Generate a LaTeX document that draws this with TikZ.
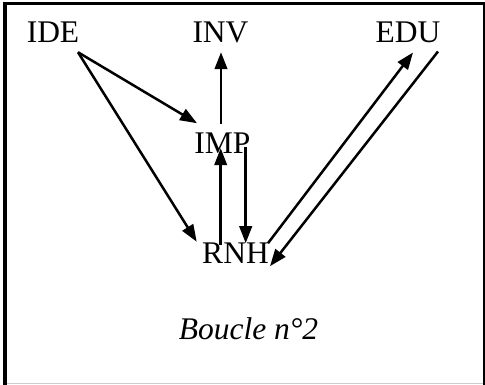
\documentclass[tikz,border=0pt]{standalone}
\usepackage{fontspec}
\setmainfont{Liberation Serif}
\usetikzlibrary{arrows.meta,calc}
\begin{document}
\begin{tikzpicture}[x=1pt,y=-1pt,
  lbl/.style={anchor=base,inner sep=0pt,font=\fontsize{31.5}{36}\selectfont},
  arr/.style={line width=2.5pt,-{Triangle[length=17pt,width=12.5pt]}}]
\useasboundingbox (0,0) rectangle (485,385);
% frame
\fill[black] (2.5,2) rectangle (7,385);
\fill[black] (2.5,2) rectangle (484.7,5.5);
\fill[black] (482.7,2) rectangle (484.7,385);
\fill[black!20] (7,383.2) rectangle (482.7,384.4);
% nodes
\node[lbl] (IDE) at (53,43) {IDE};
\node[lbl] (INV) at (220.5,43) {INV};
\node[lbl] (EDU) at (408,43) {EDU};
\node[lbl] (IMP) at (222.5,154) {IMP};
\node[lbl] (RNH) at (235.5,263) {RNH};
\node[lbl,font=\fontsize{31.5}{36}\selectfont\itshape] (cap) at (248.5,339) {Boucle n°2};
% arrows
\draw[arr] ($(IDE.south)+(25,9)$) -- ($(IMP.south)+(-25.5,-31)$);
\draw[arr] ($(IDE.south)+(25,9)$) -- ($(RNH.south)+(-38.8,-21.5)$);
\draw[arr] ($(IMP.south)+(-1.5,-30)$) -- ($(INV.south)+(0.5,8.5)$);
\draw[arr] ($(RNH.south)+(-14.8,-18)$) -- ($(IMP.south)+(-1.8,-6)$);
\draw[arr] ($(IMP.south)+(23.2,-7)$) -- ($(RNH.south)+(10.2,-20)$);
\draw[arr] ($(RNH.south)+(32.5,-20)$) -- ($(EDU.south)+(5,9)$);
\draw[arr] ($(EDU.south)+(30,8)$) -- ($(RNH.south)+(34.5,3)$);
\end{tikzpicture}
\end{document}
